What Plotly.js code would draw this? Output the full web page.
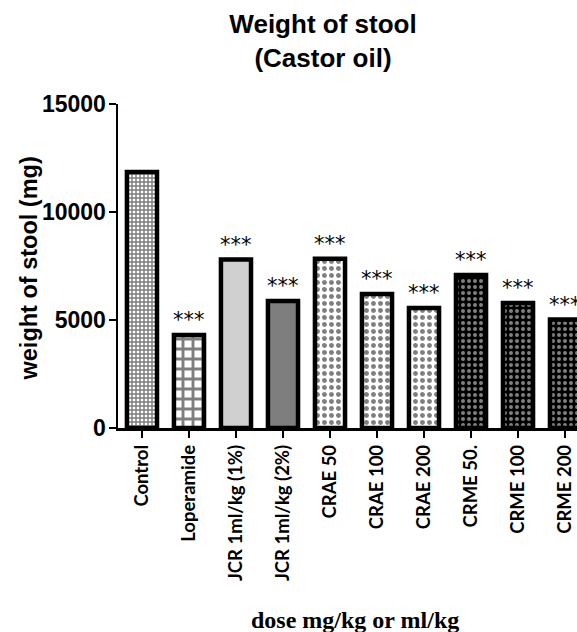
<!DOCTYPE html>
<html><head><meta charset="utf-8">
<script src="https://cdn.plot.ly/plotly-3.0.1.min.js"></script>
<style>html,body{margin:0;padding:0;background:#fff}</style>
</head><body>
<div id="chart" style="width:577px;height:632px"></div>
<script>
const categories = ["Control","Loperamide","JCR 1ml/kg (1%)","JCR 1ml/kg (2%)","CRAE 50","CRAE 100","CRAE 200","CRME 50.","CRME 100","CRME 200"];
const stoolWeight = [11850, 4300, 7800, 5880, 7830, 6200, 5550, 7080, 5790, 5020];
const significance = ["","***","***","***","***","***","***","***","***","***"];
const groups = ["control","loperamide","jcr1","jcr2","crae","crae","crae","crme","crme","crme"];

const groupStyle = {
  control:    {color:"#fff", pattern:{shape:"+", size:4, solidity:0.6, fgcolor:"#000", fillmode:"overlay"}},
  loperamide: {color:"#fff", pattern:{shape:"+", size:10, solidity:0.5, fgcolor:"#000", fillmode:"overlay"}},
  jcr1:       {color:"#d0d0d0", pattern:{shape:""}},
  jcr2:       {color:"#7e7e7e", pattern:{shape:""}},
  crae:       {color:"#fff", pattern:{shape:".", size:7, solidity:0.4, fgcolor:"#000", fillmode:"overlay"}},
  crme:       {color:"#000", pattern:{shape:".", size:6, solidity:0.35, fgcolor:"#fff", fillmode:"overlay"}}
};

const xIdx = categories.map((c,i)=>i);
const traces = Object.keys(groupStyle).map(g=>{
  const idx = xIdx.filter(i=>groups[i]===g);
  const st = groupStyle[g];
  return {
    type:"bar",
    x: idx,
    y: idx.map(i=>stoolWeight[i]),
    width: 0.64,
    marker:{color: st.color, pattern: st.pattern, line:{color:"#000", width:4.5}},
    hoverinfo:"none"
  };
});

const annotations = xIdx.filter(i=>significance[i]).map(i=>({
  x:i, y:stoolWeight[i], xref:"x", yref:"y",
  text:significance[i], showarrow:false, yanchor:"bottom", yshift:1,
  font:{family:"DejaVu Sans", size:21, color:"#000"}
}));
annotations.push({
  xref:"paper", yref:"paper", x:(355-118)/459, y:-(620-428)/324, xanchor:"center", yanchor:"middle",
  text:"<b>dose mg/kg or ml/kg</b>", showarrow:false,
  font:{family:"Liberation Serif, Times New Roman, serif", size:24, color:"#000"}
});
annotations.push({
  xref:"paper", yref:"paper", x:(28-118)/459, y:(428-268.5)/324, xanchor:"center", yanchor:"middle",
  text:"<b>weight of stool (mg)</b>", showarrow:false, textangle:-90,
  font:{family:"Liberation Sans, Arial", size:23.5, color:"#000"}
});

const layout = {
  width:577, height:632,
  margin:{l:118, r:0, t:104, b:204},
  barmode:"overlay",
  paper_bgcolor:"#fff", plot_bgcolor:"#fff",
  showlegend:false,
  title:{text:"<b>Weight of stool<br>(Castor oil)</b>", x:323/577, xref:"container", xanchor:"center",
    y:1-33/632, yref:"container", yanchor:"middle",
    font:{family:"Liberation Sans, Arial", size:26, color:"#000"}},
  xaxis:{
    range:[-0.51, 9.255], tickmode:"array", tickvals:xIdx, ticktext:categories,
    tickangle:-90, ticks:"outside", ticklen:7, tickwidth:2.5, tickcolor:"#000",
    showline:true, linecolor:"#000", linewidth:2.5, showgrid:false, zeroline:false,
    tickfont:{family:"Lato, Open Sans, sans-serif", size:18.5, color:"#000", weight:"bold"},
    fixedrange:true
  },
  yaxis:{
    range:[0,15000], tickvals:[0,5000,10000,15000], ticktext:["0","5000","10000","15000"],
    ticks:"outside", ticklen:7, tickwidth:2.5, tickcolor:"#000", ticklabelstandoff:-2,
    showline:true, linecolor:"#000", linewidth:2.5, showgrid:false, zeroline:false,
    tickfont:{family:"Liberation Sans, Arial", size:23, color:"#000", weight:"bold"},
    fixedrange:true
  },
  annotations: annotations
};

Plotly.newPlot("chart",traces,layout,{displayModeBar:false, staticPlot:true});
</script>
</body></html>
